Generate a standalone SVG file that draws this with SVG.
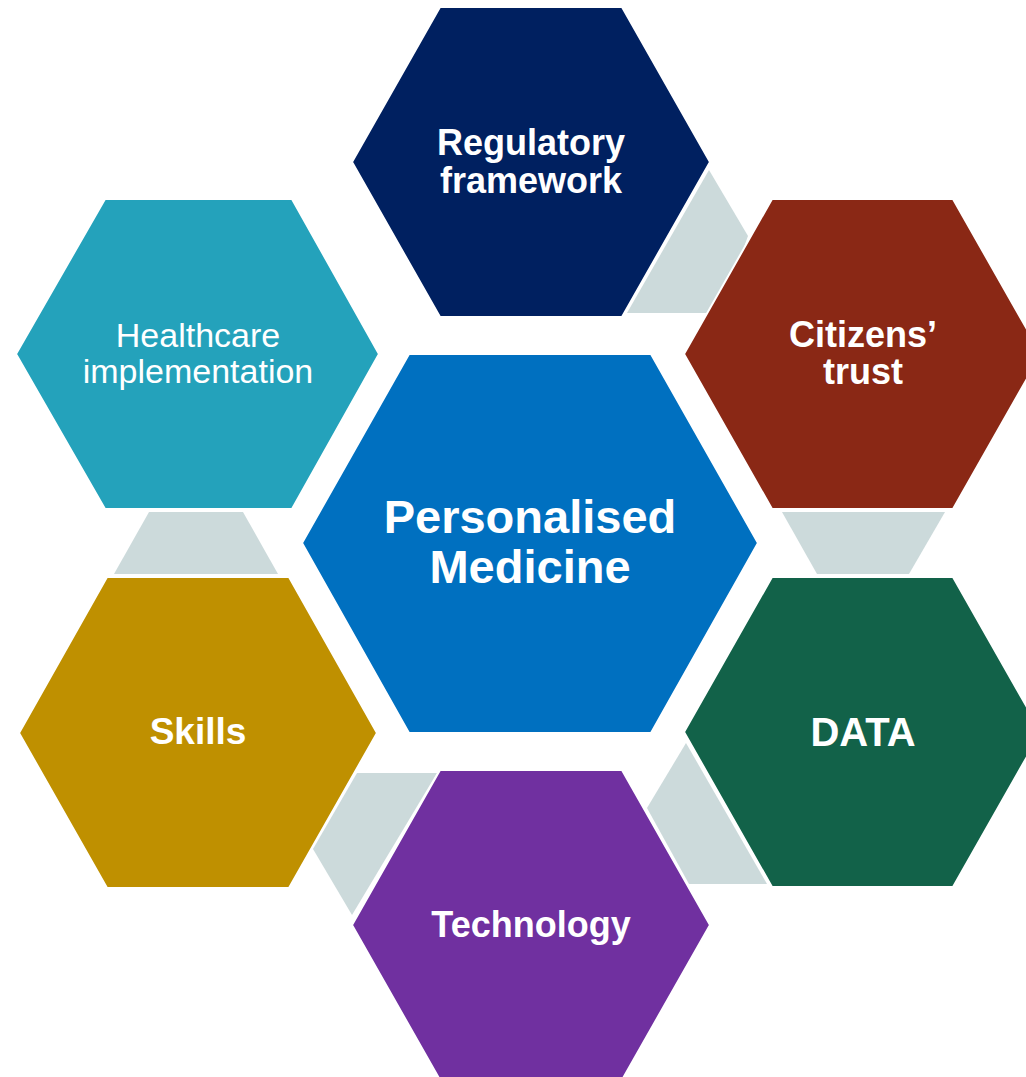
<svg xmlns="http://www.w3.org/2000/svg" width="1026" height="1077" viewBox="0 0 1026 1077">
<style>
.hex{stroke:#ffffff;stroke-width:2}
.link{fill:#CCDADB}
.t{font-family:"Liberation Sans",Arial,sans-serif;fill:#ffffff;text-anchor:middle}
.b{font-weight:bold}
</style>
<rect width="1026" height="1077" fill="#ffffff"/>
<g id="connectors">
<polygon class="link" points="709,170 748,236 720,313 627,313"/>
<polygon class="link" points="782,512 945,512 909,574 817,574"/>
<polygon class="link" points="686,743 647,808 689,884 767,884"/>
<polygon class="link" points="357,773 437,773 352,915 313,849"/>
<polygon class="link" points="149,512 243,512 278,574 114,574"/>
</g>
<g id="node-regulatory">
<polygon class="hex" fill="#002060" points="440,7 622,7 710,162 622,317 440,317 352,162"/>
<text class="t b" font-size="36" x="531" y="155">Regulatory</text>
<text class="t b" font-size="36" x="531" y="193">framework</text>
</g>
<g id="node-citizens">
<polygon class="hex" fill="#8A2815" points="772,199 953,199 1041,354 953,509 772,509 684,354"/>
<text class="t b" font-size="36" x="863" y="347">Citizens’</text>
<text class="t b" font-size="36" x="863" y="384">trust</text>
</g>
<g id="node-data">
<polygon class="hex" fill="#126249" points="772,577 953,577 1041,732 953,887 772,887 684,732"/>
<text class="t b" font-size="40" x="863" y="746">DATA</text>
</g>
<g id="node-technology">
<polygon class="hex" fill="#7030A0" points="440,770 622,770 710,925 622,1080 440,1080 352,925"/>
<text class="t b" font-size="36" x="531" y="937">Technology</text>
</g>
<g id="node-skills">
<polygon class="hex" fill="#BF9000" points="107,577 289,577 377,733 289,888 107,888 19,733"/>
<text class="t b" font-size="37" x="198" y="744">Skills</text>
</g>
<g id="node-healthcare">
<polygon class="hex" fill="#24A2BB" points="105,199 292,199 379,354 292,509 105,509 16,354"/>
<text class="t" font-size="34" x="198" y="347">Healthcare</text>
<text class="t" font-size="34" x="198" y="383">implementation</text>
</g>
<g id="node-center">
<polygon class="hex" fill="#0070C0" points="409,354 651,354 758,543 651,733 409,733 302,543"/>
<text class="t b" font-size="47" x="530" y="533">Personalised</text>
<text class="t b" font-size="47" x="530" y="583">Medicine</text>
</g>
</svg>
